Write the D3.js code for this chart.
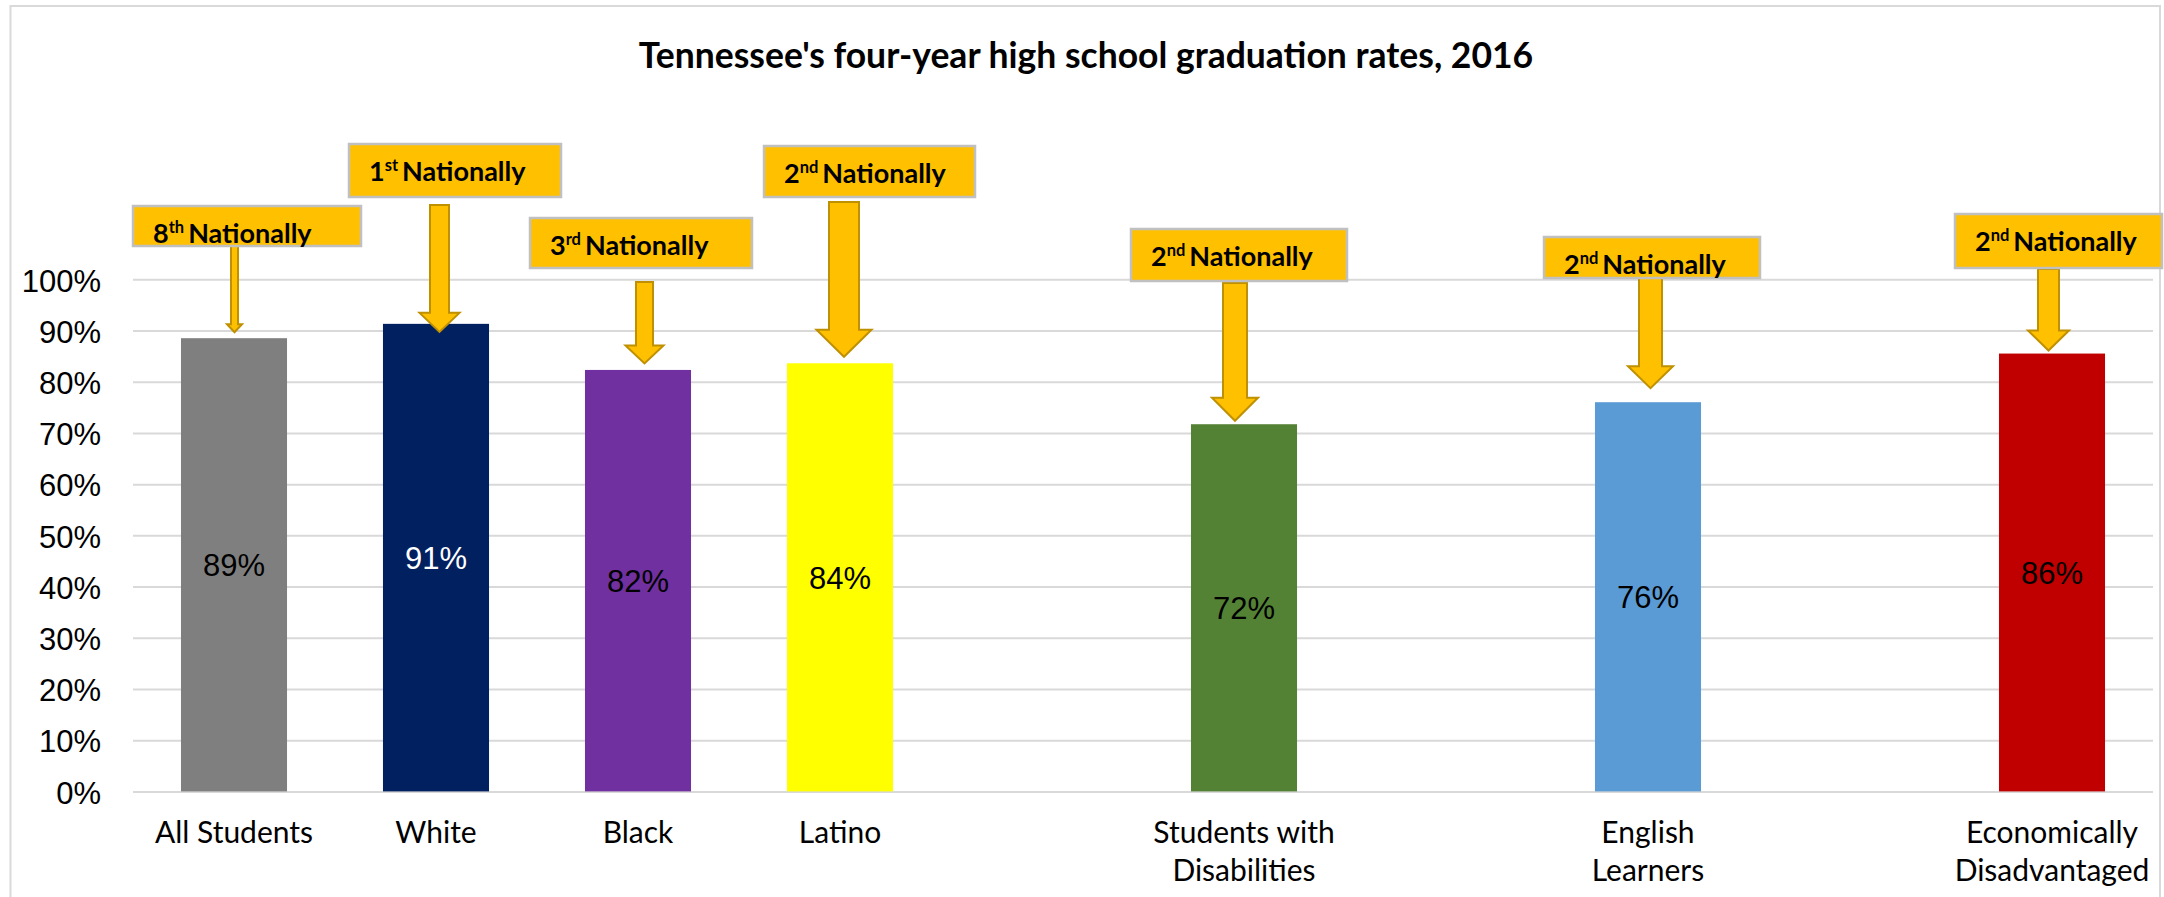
<!DOCTYPE html>
<html>
<head>
<meta charset="utf-8">
<script src="https://cdn.jsdelivr.net/npm/d3@7"></script>
<style>
  body { margin: 0; background: #fff; }
  svg { display: block; }
</style>
</head>
<body>
<svg id="chart" width="2164" height="897"></svg>
<script>
// ---- data ----------------------------------------------------------------
// Empty strings are spacer slots on the category axis.
const categories = ["All Students", "White", "Black", "Latino", "",
  "Students with Disabilities", "", "English Learners", "", "Economically Disadvantaged"];
const rates = [0.885, 0.913, 0.823, 0.836, null, 0.717, null, 0.760, null, 0.855];
const nationalRanks = ["8th", "1st", "3rd", "2nd", null, "2nd", null, "2nd", null, "2nd"];
const yTickValues = [0, 0.1, 0.2, 0.3, 0.4, 0.5, 0.6, 0.7, 0.8, 0.9, 1.0];
const chartTitle = "Tennessee's four-year high school graduation rates, 2016";

// ---- styles ----------------------------------------------------------------
const barColors = ["#7f7f7f", "#002060", "#7030a0", "#ffff00", null,
  "#548235", null, "#5b9bd5", null, "#c00000"];
const valueLabelColors = ["#000", "#fff", "#000", "#000", null, "#000", null, "#000", null, "#000"];

// Callout placement for each bar (pixels, relative to the bar centre / value).
const calloutLayout = [
  { boxDx: -101, boxTop: 206, boxW: 228, boxH: 40, arrowDx: 0.5, shaftGap: 0,  shaftW: 7,  headW: 15, headL: 8,  tipGap: 6 },
  { boxDx: -87,  boxTop: 144, boxW: 212, boxH: 53, arrowDx: 3.5, shaftGap: 8,  shaftW: 19, headW: 40, headL: 19, tipGap: -8 },
  { boxDx: -108, boxTop: 218, boxW: 222, boxH: 50, arrowDx: 6.5, shaftGap: 14, shaftW: 17, headW: 38, headL: 18, tipGap: 6.5 },
  { boxDx: -76,  boxTop: 146, boxW: 211, boxH: 51, arrowDx: 4,   shaftGap: 5,  shaftW: 30, headW: 55, headL: 27, tipGap: 6.5 },
  null,
  { boxDx: -113, boxTop: 229, boxW: 216, boxH: 52, arrowDx: -9,  shaftGap: 2,  shaftW: 24, headW: 46, headL: 23, tipGap: 3.5 },
  null,
  { boxDx: -104, boxTop: 237, boxW: 216, boxH: 41, arrowDx: 2.5, shaftGap: 0,  shaftW: 23, headW: 45, headL: 22, tipGap: 14 },
  null,
  { boxDx: -97,  boxTop: 214, boxW: 207, boxH: 54, arrowDx: -3.5, shaftGap: 1, shaftW: 21, headW: 41, headL: 20, tipGap: 3 }
];

const calibriLike = "Lato, 'Open Sans', sans-serif";
const arialLike = "'Liberation Sans', Arial, sans-serif";

// ---- layout ----------------------------------------------------------------
const svg = d3.select("#chart");
const plot = { left: 133, right: 2153, top: 279.3, bottom: 791.4 };

const rows = categories.map((c, i) => ({
  i, category: c, rate: rates[i], rank: nationalRanks[i],
  color: barColors[i], labelColor: valueLabelColors[i], callout: calloutLayout[i]
}));
const bars = rows.filter(d => d.rate != null);

const x = d3.scaleBand()
  .domain(rows.map(d => d.i))
  .range([plot.left, plot.right])
  .paddingInner(0.475)
  .paddingOuter(0.2375);

const y = d3.scaleLinear()
  .domain([0, 1])
  .range([plot.bottom, plot.top]);

const pct = d3.format(".0%");

// chart frame
svg.append("rect")
  .attr("x", 10.5).attr("y", 6)
  .attr("width", 2149.5).attr("height", 1000)
  .attr("fill", "#fff")
  .attr("stroke", "#d9d9d9")
  .attr("stroke-width", 2);

// title
svg.append("text")
  .attr("x", 1086).attr("y", 68)
  .attr("text-anchor", "middle")
  .attr("font-family", calibriLike)
  .attr("font-weight", 700)
  .attr("font-size", 35.5)
  .attr("fill", "#000")
  .text(chartTitle);

// gridlines + y axis labels
const yAxis = svg.append("g")
  .attr("transform", `translate(${plot.left},0)`)
  .call(d3.axisLeft(y)
    .tickValues(yTickValues)
    .tickFormat(pct)
    .tickSize(-(plot.right - plot.left))
    .tickPadding(32));
yAxis.select(".domain").remove();
yAxis.selectAll(".tick line")
  .attr("stroke", "#d9d9d9")
  .attr("stroke-width", 2);
yAxis.selectAll(".tick text")
  .attr("font-family", arialLike)
  .attr("font-size", 31)
  .attr("fill", "#000")
  .attr("dy", "0.38em");

// bars
svg.append("g").selectAll("rect")
  .data(bars)
  .join("rect")
  .attr("x", d => x(d.i))
  .attr("width", x.bandwidth())
  .attr("y", d => y(d.rate))
  .attr("height", d => y(0) - y(d.rate))
  .attr("fill", d => d.color);

// value labels, centred in each bar
svg.append("g").selectAll("text")
  .data(bars)
  .join("text")
  .attr("x", d => x(d.i) + x.bandwidth() / 2)
  .attr("y", d => (y(d.rate) + y(0)) / 2)
  .attr("dy", "0.36em")
  .attr("text-anchor", "middle")
  .attr("font-family", arialLike)
  .attr("font-size", 31)
  .attr("fill", d => d.labelColor)
  .text(d => pct(d.rate));

// category labels, wrapped to the slot width
const catLabels = svg.append("g").selectAll("text")
  .data(bars)
  .join("text")
  .attr("x", d => x(d.i) + x.bandwidth() / 2)
  .attr("y", 843)
  .attr("text-anchor", "middle")
  .attr("font-family", calibriLike)
  .attr("font-size", 30)
  .attr("fill", "#000");

catLabels.each(function (d) {
  const t = d3.select(this);
  const cx = x(d.i) + x.bandwidth() / 2;
  const words = d.category.split(" ");
  const maxW = x.step() - 4;
  let line = [];
  let tspan = t.append("tspan").attr("x", cx).attr("dy", 0);
  words.forEach(w => {
    line.push(w);
    tspan.text(line.join(" "));
    if (tspan.node().getComputedTextLength() > maxW && line.length > 1) {
      line.pop();
      tspan.text(line.join(" "));
      line = [w];
      tspan = t.append("tspan").attr("x", cx).attr("dy", 38).text(w);
    }
  });
});

// ranking callouts: boxed note with a block arrow pointing at the bar
const callouts = svg.append("g").selectAll("g")
  .data(bars)
  .join("g");

callouts.append("path")
  .attr("fill", "#ffc000")
  .attr("stroke", "#bf9000")
  .attr("stroke-width", 2)
  .attr("stroke-linejoin", "miter")
  .attr("d", d => {
    const c = d.callout;
    const cx = x(d.i) + x.bandwidth() / 2 + c.arrowDx;
    const top = c.boxTop + c.boxH + c.shaftGap;
    const tip = y(d.rate) - c.tipGap;
    const neck = tip - c.headL;
    const s = c.shaftW / 2, h = c.headW / 2;
    return `M${cx - s},${top}H${cx + s}V${neck}H${cx + h}L${cx},${tip}L${cx - h},${neck}H${cx - s}Z`;
  });

callouts.append("rect")
  .attr("x", d => x(d.i) + x.bandwidth() / 2 + d.callout.boxDx)
  .attr("y", d => d.callout.boxTop)
  .attr("width", d => d.callout.boxW)
  .attr("height", d => d.callout.boxH)
  .attr("fill", "#ffc000")
  .attr("stroke", "#c0c0c0")
  .attr("stroke-width", 2.5);

const rankText = callouts.append("text")
  .attr("x", d => x(d.i) + x.bandwidth() / 2 + d.callout.boxDx + 20)
  .attr("y", d => d.callout.boxTop + 37)
  .attr("font-family", calibriLike)
  .attr("font-weight", 700)
  .attr("font-size", 27)
  .attr("fill", "#000");

rankText.append("tspan").text(d => d.rank.replace(/\D+$/, ""));
rankText.append("tspan")
  .attr("font-size", 16.5)
  .attr("dy", -10)
  .text(d => d.rank.replace(/^\d+/, "") + " ");
rankText.append("tspan")
  .attr("dy", 10)
  .text("Nationally");
</script>
</body>
</html>
